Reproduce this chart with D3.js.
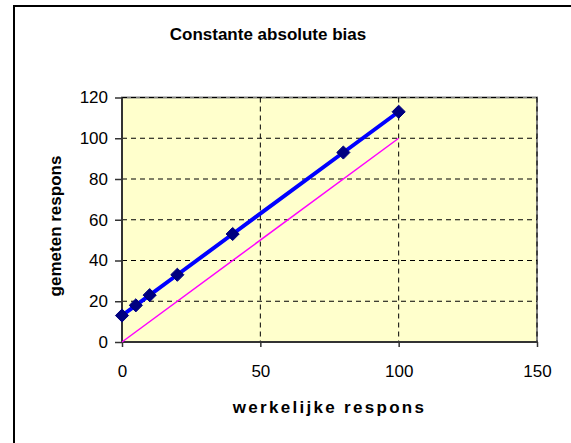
<!DOCTYPE html>
<html>
<head>
<meta charset="utf-8">
<script src="https://cdn.jsdelivr.net/npm/d3@7"></script>
<style>
  body { margin: 0; background: #fff; }
  svg { display: block; font-family: "Liberation Sans", Arial, sans-serif; }
</style>
</head>
<body>
<div id="root"></div>
<script>
// Dati
const werkelijk = [0, 5, 10, 20, 40, 80, 100];
const gemeten = [13, 18, 23, 33, 53, 93, 113];
const idealX = [0, 100];
const idealY = [0, 100];
const xTicks = [0, 50, 100, 150];
const yTicks = [0, 20, 40, 60, 80, 100, 120];

const W = 571, H = 443;
const plot = { left: 122, right: 537, top: 97.5, bottom: 342 };

const svg = d3.select("#root").append("svg")
    .attr("width", W)
    .attr("height", H);

// cornice del grafico (tagliata a destra e in basso)
svg.append("rect")
    .attr("x", 14).attr("y", 6)
    .attr("width", 700).attr("height", 600)
    .attr("fill", "#fff")
    .attr("stroke", "#000")
    .attr("stroke-width", 2);

const x = d3.scaleLinear().domain([0, 150]).range([plot.left, plot.right]);
const y = d3.scaleLinear().domain([0, 120]).range([plot.bottom, plot.top]);

// sfondo area grafico
svg.append("rect")
    .attr("x", plot.left).attr("y", plot.top)
    .attr("width", plot.right - plot.left)
    .attr("height", plot.bottom - plot.top)
    .attr("fill", "#ffffcc")
    .attr("stroke", "#808080")
    .attr("stroke-width", 2);

// griglia
svg.append("g")
    .selectAll("line")
    .data(yTicks.filter(d => d > 0))
    .join("line")
    .attr("x1", plot.left).attr("x2", plot.right)
    .attr("y1", d => y(d)).attr("y2", d => y(d))
    .attr("stroke", "#000")
    .attr("stroke-dasharray", "5,4");

svg.append("g")
    .selectAll("line")
    .data(xTicks.filter(d => d > 0))
    .join("line")
    .attr("x1", d => x(d)).attr("x2", d => x(d))
    .attr("y1", plot.top).attr("y2", plot.bottom)
    .attr("stroke", "#000")
    .attr("stroke-dasharray", "5,4");

// assi
const xAxis = d3.axisBottom(x).tickValues(xTicks).tickSize(5).tickPadding(18);
const yAxis = d3.axisLeft(y).tickValues(yTicks).tickSize(7).tickPadding(7);

const gx = svg.append("g")
    .attr("transform", `translate(0,${plot.bottom})`)
    .call(xAxis);
const gy = svg.append("g")
    .attr("transform", `translate(${plot.left},0)`)
    .call(yAxis);

[gx, gy].forEach(g => {
    g.select(".domain").attr("stroke", "#333").attr("stroke-width", 2);
    g.selectAll(".tick line").attr("stroke", "#333").attr("stroke-width", 1.5);
    g.selectAll("text")
        .attr("font-family", "Liberation Sans, Arial, sans-serif")
        .attr("font-size", 17)
        .attr("fill", "#000");
});
gx.select(".domain").attr("d", `M${plot.left},0H${plot.right}`);
gy.select(".domain").attr("d", `M0,${plot.bottom}V${plot.top}`);

// linea ideale
const line = d3.line()
    .x(d => x(d[0]))
    .y(d => y(d[1]));

svg.append("path")
    .datum(d3.zip(idealX, idealY))
    .attr("fill", "none")
    .attr("stroke", "#ff00ff")
    .attr("stroke-width", 1.5)
    .attr("d", line);

// linea misurata
const meas = d3.zip(werkelijk, gemeten);
svg.append("path")
    .datum(meas)
    .attr("fill", "none")
    .attr("stroke", "#0000ff")
    .attr("stroke-width", 4)
    .attr("d", line);

svg.append("g")
    .selectAll("path")
    .data(meas)
    .join("path")
    .attr("transform", d => `translate(${x(d[0])},${y(d[1])})`)
    .attr("d", d3.symbol(d3.symbolDiamond2, 110))
    .attr("fill", "#000080")
    .attr("stroke", "#000080")
    .attr("stroke-width", 1);

// titoli
svg.append("text")
    .attr("x", 268).attr("y", 40)
    .attr("text-anchor", "middle")
    .attr("font-size", 17)
    .attr("font-weight", "bold")
    .text("Constante absolute bias");

svg.append("text")
    .attr("x", (plot.left + plot.right) / 2).attr("y", 413)
    .attr("text-anchor", "middle")
    .attr("font-size", 17)
    .attr("font-weight", "bold")
    .attr("letter-spacing", 2.3)
    .text("werkelijke respons");

svg.append("text")
    .attr("transform", `translate(61,226) rotate(-90)`)
    .attr("text-anchor", "middle")
    .attr("font-size", 17)
    .attr("font-weight", "bold")
    .text("gemeten respons");
</script>
</body>
</html>
